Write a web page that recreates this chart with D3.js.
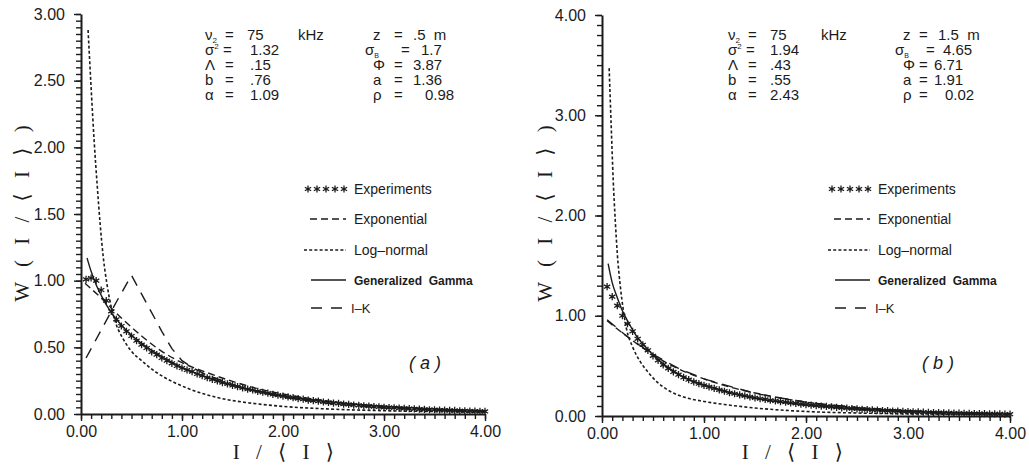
<!DOCTYPE html>
<html>
<head>
<meta charset="utf-8">
<script src="https://cdn.jsdelivr.net/npm/d3@7"></script>
<style>
body{margin:0;background:#fff;}
text{font-family:"Liberation Sans",Arial,sans-serif;fill:#1b1b1b;}
.axis .domain{stroke:#1b1b1b;stroke-width:2;}
.axis .tick line{stroke:#1b1b1b;stroke-width:1.4;}
.axis .tick text{font-size:16px;fill:#1b1b1b;font-family:"Liberation Sans",Arial,sans-serif;}
</style>
</head>
<body>
<svg width="1029" height="467"></svg>
<script>
// ---------- values ----------
const xTicks = [0, 1, 2, 3, 4];
const yTicksA = [0, 0.5, 1, 1.5, 2, 2.5, 3];
const yTicksB = [0, 1, 2, 3, 4];

const legendNames = ["Experiments", "Exponential", "Log\u2013normal", "Generalized  Gamma", "I\u2013K"];

// parameter block, column 1 and column 2
const parSym = ["\u03bd", "\u03c3", "\u039b", "b", "\u03b1"];
const parSub = ["2", "", "", "", ""];
const parSup = ["", "2", "", "", ""];
const parValA = ["75", "1.32", ".15", ".76", "1.09"];
const parValB = ["75", "1.94", ".43", ".55", "2.43"];
const par2Sym = ["z", "\u03c3", "\u03a6", "a", "\u03c1"];
const par2Sub = ["", "B", "", "", ""];
const par2ValA = [".5  m", "1.7", "3.87", "1.36", "0.98"];
const par2ValB = ["1.5  m", "4.65", "6.71", "1.91", "0.02"];

// experiments, sampled every 0.05 in I/<I> from 0.05 to 4.00
const expDataA = [1.01,1.02,1.00,0.93,0.85,0.77,0.71,0.66,0.62,0.585,0.55,0.52,0.495,0.465,0.445,0.42,0.40,0.38,0.36,0.345,
  0.33,0.318,0.30,0.288,0.272,0.26,0.248,0.236,0.226,0.214,0.206,0.196,0.186,0.18,0.17,0.163,0.156,0.147,0.141,0.134,
  0.128,0.123,0.115,0.111,0.104,0.10,0.096,0.09,0.087,0.082,0.079,0.074,0.072,0.067,0.065,0.061,0.059,0.055,0.053,0.05,
  0.048,0.047,0.044,0.043,0.04,0.039,0.036,0.035,0.032,0.032,0.03,0.029,0.027,0.027,0.024,0.024,0.022,0.021,0.02,0.019];
const expDataB = [1.29,1.19,1.10,1.00,0.92,0.845,0.77,0.71,0.655,0.60,0.555,0.51,0.475,0.44,0.412,0.385,0.362,0.34,0.322,0.305,
  0.29,0.276,0.26,0.247,0.232,0.222,0.21,0.201,0.19,0.181,0.172,0.166,0.157,0.151,0.143,0.138,0.13,0.125,0.118,0.114,
  0.108,0.104,0.098,0.095,0.09,0.087,0.082,0.079,0.074,0.071,0.067,0.065,0.061,0.059,0.055,0.053,0.05,0.049,0.046,0.045,
  0.042,0.041,0.038,0.037,0.035,0.034,0.032,0.031,0.029,0.029,0.027,0.026,0.025,0.025,0.023,0.022,0.021,0.021,0.019,0.018];

// model curves [I/<I>, W]
const expoA = [[0.04,0.98],[0.2,0.87],[0.4,0.72],[0.6,0.585],[0.8,0.47],[1.0,0.385],[1.25,0.31],[1.5,0.245],[1.75,0.19],[2.0,0.15],[2.5,0.092],[3.0,0.056],[3.5,0.034],[4.0,0.02]];
const lognA = [[0.07,2.88],[0.1,2.45],[0.13,2.05],[0.16,1.72],[0.19,1.42],[0.22,1.18],[0.26,0.96],[0.3,0.8],[0.35,0.67],[0.42,0.56],[0.5,0.47],[0.6,0.40],[0.75,0.31],[0.9,0.245],[1.1,0.18],[1.4,0.115],[1.7,0.08],[2.0,0.057],[2.5,0.036],[3.0,0.025],[3.5,0.018],[4.0,0.013]];
const ggA = [[0.06,1.17],[0.1,1.07],[0.15,0.97],[0.2,0.89],[0.3,0.76],[0.4,0.665],[0.5,0.59],[0.6,0.53],[0.8,0.43],[1.0,0.35],[1.25,0.275],[1.5,0.215],[2.0,0.135],[2.5,0.088],[3.0,0.058],[3.5,0.038],[4.0,0.025]];
const ikA = [[0.05,0.42],[0.2,0.63],[0.35,0.84],[0.5,1.04],[0.65,0.83],[0.8,0.62],[0.9,0.49],[1.0,0.40],[1.1,0.35],[1.25,0.29],[1.6,0.195],[2.0,0.125],[2.5,0.075],[3.0,0.047],[3.5,0.03],[4.0,0.02]];

const expoB = [[0.05,0.95],[0.25,0.79],[0.5,0.61],[0.75,0.47],[1.0,0.37],[1.25,0.29],[1.5,0.23],[1.75,0.18],[2.0,0.138],[2.5,0.085],[3.0,0.052],[3.5,0.032],[4.0,0.019]];
const lognB = [[0.07,3.47],[0.09,2.9],[0.11,2.35],[0.13,1.95],[0.15,1.62],[0.18,1.29],[0.21,1.05],[0.24,0.87],[0.3,0.69],[0.37,0.55],[0.45,0.44],[0.55,0.33],[0.67,0.245],[0.8,0.19],[1.0,0.145],[1.2,0.115],[1.5,0.08],[2.0,0.045],[2.5,0.03],[3.0,0.022],[3.5,0.016],[4.0,0.012]];
const ggB = [[0.06,1.52],[0.1,1.33],[0.15,1.18],[0.2,1.05],[0.25,0.95],[0.3,0.86],[0.35,0.78],[0.4,0.72],[0.5,0.61],[0.6,0.52],[0.7,0.45],[0.8,0.39],[1.0,0.31],[1.25,0.235],[1.5,0.18],[1.75,0.14],[2.0,0.112],[2.5,0.07],[3.0,0.045],[3.5,0.03],[4.0,0.02]];
const ikB = [[0.05,0.96],[0.25,0.79],[0.5,0.615],[0.75,0.475],[1.0,0.37],[1.5,0.225],[2.0,0.137],[2.5,0.084],[3.0,0.051],[3.5,0.031],[4.0,0.019]];

// ---------- drawing ----------
const svg = d3.select("svg");
svg.append("rect").attr("width", 1029).attr("height", 467).attr("fill", "#fff");

const expX = d3.range(1, 81).map(i => i * 0.05);

const dashExp = "7,4", dashLog = "3,2.2", dashIK = "11,8";
const ink = "#1b1b1b";

function drawPanel(p){
    const x = d3.scaleLinear().domain([0, 4]).range([p.left, p.right]);
    const y = d3.scaleLinear().domain([0, p.yMax]).range([p.bottom, p.top]);
    const g = svg.append("g");

    // minor ticks
    g.append("g").attr("class", "axis").attr("transform", "translate(0," + p.bottom + ")")
        .call(d3.axisBottom(x).tickValues(d3.range(0, 4.0001, 0.1)).tickSize(5).tickSizeOuter(0).tickFormat(""));
    g.append("g").attr("class", "axis").attr("transform", "translate(" + p.left + ",0)")
        .call(d3.axisLeft(y).tickValues(d3.range(0, p.yMax + 0.0001, p.yMinor)).tickSize(5).tickSizeOuter(0).tickFormat(""));
    // major ticks
    const xa = g.append("g").attr("class", "axis").attr("transform", "translate(0," + p.bottom + ")")
        .call(d3.axisBottom(x).tickValues(xTicks).tickSize(7).tickSizeOuter(0).tickPadding(5).tickFormat(d3.format(".2f")));
    const ya = g.append("g").attr("class", "axis").attr("transform", "translate(" + p.left + ",0)")
        .call(d3.axisLeft(y).tickValues(p.yTicks).tickSize(7).tickSizeOuter(0).tickPadding(9).tickFormat(d3.format(".2f")));
    xa.select(".domain").remove();
    ya.select(".domain").remove();

    const line = d3.line().x(d => x(d[0])).y(d => y(d[1])).curve(d3.curveMonotoneX);
    const lineLin = d3.line().x(d => x(d[0])).y(d => y(d[1]));

    g.append("path").attr("d", line(p.logn)).attr("fill", "none").attr("stroke", ink)
        .attr("stroke-width", 1.6).attr("stroke-dasharray", dashLog);
    g.append("path").attr("d", line(p.expo)).attr("fill", "none").attr("stroke", ink)
        .attr("stroke-width", 1.4).attr("stroke-dasharray", dashExp);
    g.append("path").attr("d", lineLin(p.ik)).attr("fill", "none").attr("stroke", ink)
        .attr("stroke-width", 1.4).attr("stroke-dasharray", dashIK);
    g.append("path").attr("d", line(p.gg)).attr("fill", "none").attr("stroke", ink)
        .attr("stroke-width", 1.4);

    const star = d3.symbol().type(d3.symbolAsterisk).size(36);
    g.append("g").selectAll("path").data(p.exp.map((v, i) => [expX[i], v])).enter()
        .append("path")
        .attr("transform", d => "translate(" + x(d[0]) + "," + y(d[1]) + ")")
        .attr("d", star)
        .attr("fill", "none").attr("stroke", ink).attr("stroke-width", 1.3);

    // axis titles
    g.append("text").text("I / \u27e8 I \u27e9")
        .attr("x", p.xTitleX).attr("y", 459).attr("text-anchor", "middle")
        .style("font-family", "'Liberation Serif','DejaVu Serif',serif").style("font-size", "21px")
        .style("letter-spacing", "5.5px").style("white-space", "pre");
    g.append("text").text("W ( I / \u27e8 I \u27e9 )")
        .attr("transform", "translate(" + p.yTitleX + ",211) rotate(-90)")
        .attr("text-anchor", "middle")
        .style("font-family", "'Liberation Serif','DejaVu Serif',serif").style("font-size", "21px")
        .style("letter-spacing", "5px").style("white-space", "pre");

    // parameters
    const pr = g.append("g").style("font-size", "15px");
    parSym.forEach(function(s, i){
        const yy = 40 + i * 15;
        const t = pr.append("text").attr("x", p.px).attr("y", yy);
        t.append("tspan").text(s);
        if (parSub[i]) t.append("tspan").text(parSub[i]).attr("dy", 3).style("font-size", "8px");
        if (parSup[i]) t.append("tspan").text(parSup[i]).attr("dy", -6).style("font-size", "8px");
        pr.append("text").attr("x", p.px + (parSup[i] ? 18 : 20)).attr("y", yy).text("=");
        pr.append("text").attr("x", p.px + (i == 0 ? 42 : p.v1off)).attr("y", yy).text(p.vals[i]);
        if (i == 0) pr.append("text").attr("x", p.px + 93).attr("y", yy).text("kHz");

        const t2 = pr.append("text").attr("x", p.px2 - (par2Sub[i] ? 8 : 0)).attr("y", yy);
        t2.append("tspan").text(par2Sym[i]);
        if (par2Sub[i]) t2.append("tspan").text(par2Sub[i]).attr("dy", 3).style("font-size", "7px");
        pr.append("text").attr("x", p.px2 + (par2Sub[i] ? p.eq2 + 7 : p.eq2)).attr("y", yy).text("=");
        pr.append("text").attr("x", p.px2 + p.v2off[i]).attr("y", yy)
            .style("white-space", "pre").text(p.vals2[i]);
    });

    // legend
    const lg = g.append("g");
    const rows = [189, 219, 250, 280, 308];
    lg.selectAll("path.ls").data(d3.range(5)).enter().append("path")
        .attr("transform", i => "translate(" + (p.lx + 2 + i * 9) + "," + rows[0] + ")")
        .attr("d", star).attr("fill", "none").attr("stroke", ink).attr("stroke-width", 1.3);
    lg.append("line").attr("x1", p.lx + 4).attr("x2", p.lx + 40).attr("y1", rows[1]).attr("y2", rows[1])
        .attr("stroke", ink).attr("stroke-width", 1.4).attr("stroke-dasharray", dashExp);
    lg.append("line").attr("x1", p.lx - 2).attr("x2", p.lx + 40).attr("y1", rows[2]).attr("y2", rows[2])
        .attr("stroke", ink).attr("stroke-width", 1.4).attr("stroke-dasharray", dashLog);
    lg.append("line").attr("x1", p.lx + 5).attr("x2", p.lx + 40).attr("y1", rows[3]).attr("y2", rows[3])
        .attr("stroke", ink).attr("stroke-width", 1.4);
    lg.append("line").attr("x1", p.lx + 5).attr("x2", p.lx + 36).attr("y1", rows[4]).attr("y2", rows[4])
        .attr("stroke", ink).attr("stroke-width", 1.4).attr("stroke-dasharray", "11,9");
    legendNames.forEach(function(n, i){
        lg.append("text").text(n)
            .attr("x", p.lx + (i == 4 ? 45 : 48)).attr("y", rows[i] + 5)
            .style("white-space", "pre")
            .style("font-size", i == 3 ? "12px" : (i == 4 ? "13px" : "14px"))
            .style("font-weight", i == 3 ? "bold" : "normal");
    });

    g.append("text").text("( " + p.tag + " )")
        .attr("x", p.tagX).attr("y", 369).attr("text-anchor", "middle")
        .style("font-style", "italic").style("font-size", "18px").style("white-space", "pre");
}

drawPanel({left: 81, right: 485, top: 14, bottom: 414, yMax: 3, yMinor: 0.05, yTicks: yTicksA,
    exp: expDataA, expo: expoA, logn: lognA, gg: ggA, ik: ikA,
    xTitleX: 286, yTitleX: 29, px: 205, px2: 373, vals: parValA, vals2: par2ValA, v1off: 45,
    eq2: 21, v2off: [40, 48, 40, 40, 52], lx: 306, tag: "a", tagX: 425});
drawPanel({left: 602, right: 1010, top: 15, bottom: 416, yMax: 4, yMinor: 0.1, yTicks: yTicksB,
    exp: expDataB, expo: expoB, logn: lognB, gg: ggB, ik: ikB,
    xTitleX: 795, yTitleX: 552, px: 728, px2: 903, vals: parValB, vals2: par2ValB, v1off: 42,
    eq2: 16, v2off: [35, 40, 31, 31, 42], lx: 830, tag: "b", tagX: 938});
</script>
</body>
</html>
